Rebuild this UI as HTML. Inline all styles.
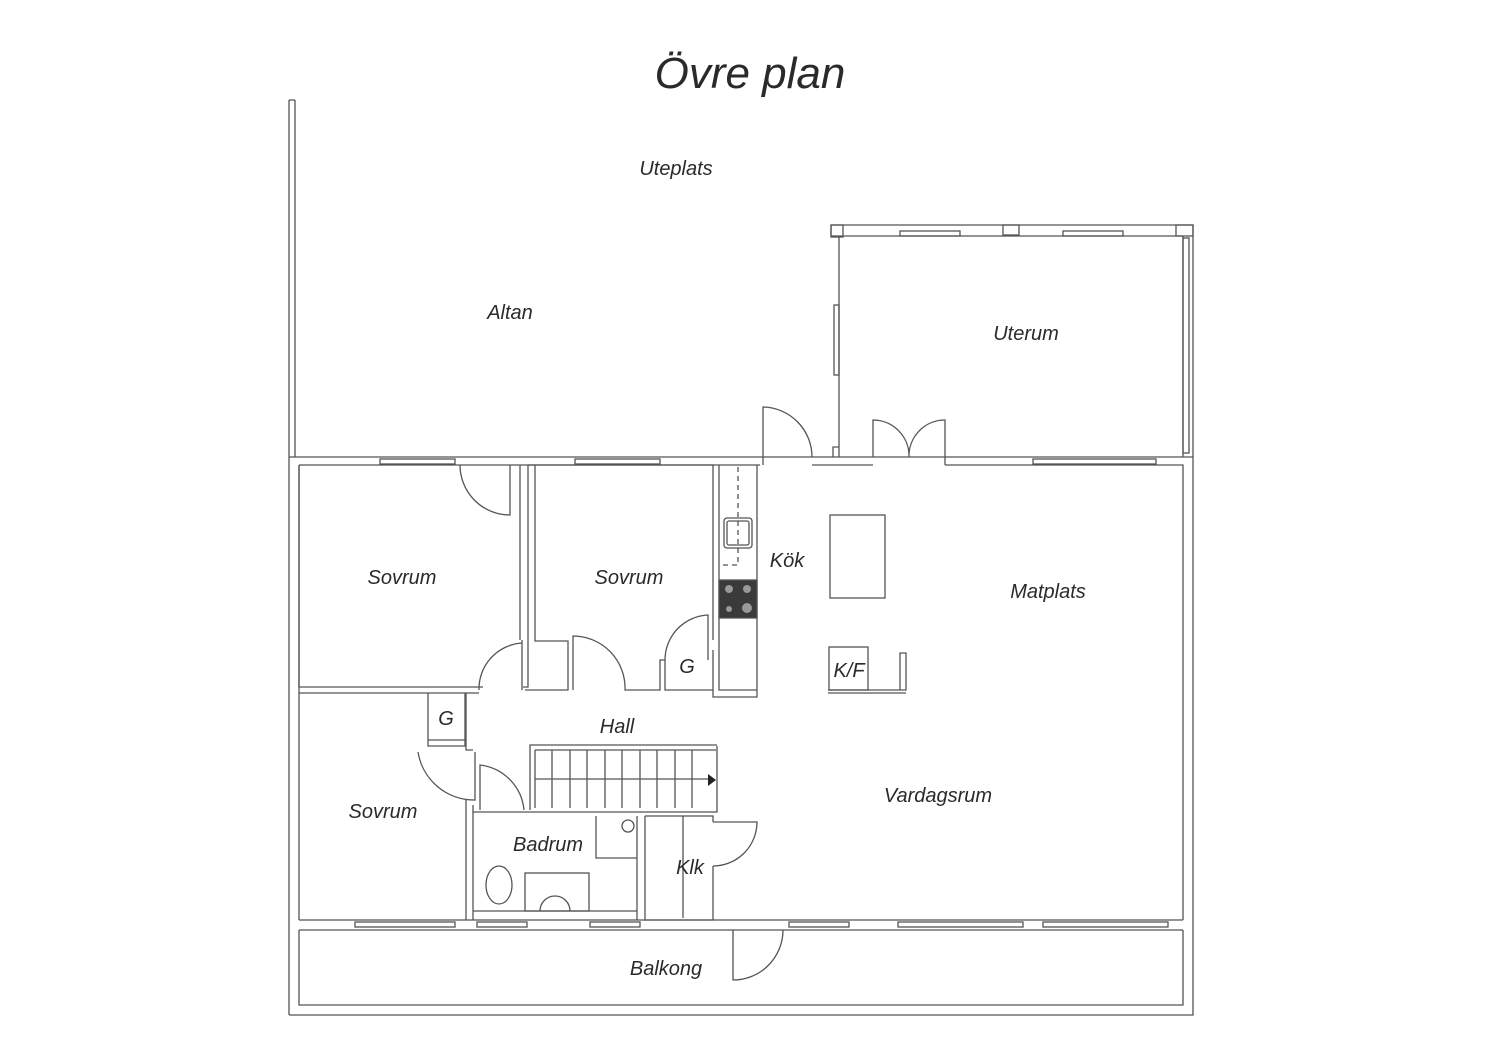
<!DOCTYPE html>
<html><head><meta charset="utf-8"><style>
html,body{margin:0;padding:0;background:#fff;}
svg{display:block}
text{font-family:"Liberation Sans",sans-serif;font-style:italic;fill:#2a2a2a}
</style></head><body>
<svg width="1500" height="1060" viewBox="0 0 1500 1060" xmlns="http://www.w3.org/2000/svg">
<g fill="none" stroke="#555" stroke-width="1.3">
<path d="M289 100 V1015 M295 100 V457 M289 100 H295"/>
<path d="M289 457 H1193 V1015 H289"/>
<path d="M299 465 H760 M812 465 H873 M945 465 H1183 V920 M1183 930 V1005 H299 V930 M299 920 V465"/>
<path d="M299 920 H1183 M299 930 H1183"/>
<rect x="380" y="459" width="75" height="5"/><rect x="575" y="459" width="85" height="5"/><rect x="1033" y="459" width="123" height="5"/>
<rect x="355" y="922" width="100" height="5"/><rect x="477" y="922" width="50" height="5"/><rect x="590" y="922" width="50" height="5"/>
<rect x="789" y="922" width="60" height="5"/><rect x="898" y="922" width="125" height="5"/><rect x="1043" y="922" width="125" height="5"/>
<path d="M299 465 V687 H479 M483 687 H299"/>
<path d="M299 693 H479"/>
<path d="M510 465 V515 A50 50 0 0 1 460 465"/>
<path d="M520 465 V640 M528 465 V687 H523"/>
<path d="M522 640 V690 M479 690 A46 46 0 0 1 522 643"/>
<path d="M535 465 V641 H568 V690 H525 M535 641"/>
<path d="M528 465 H713 V640"/>
<path d="M573 690 V636 A52 52 0 0 1 625 690 H660 V660 H665 V690 H713 V650"/>
<path d="M665 660 A45 45 0 0 1 708 615 V660"/>
<path d="M719 465 V690 H757 V465 M713 690 V697 H757 V690"/>
<path d="M738 467 V565 H719" stroke-dasharray="5,4"/>
<rect x="724" y="518" width="28" height="30" rx="3"/><rect x="727" y="521" width="22" height="24" rx="2"/>
<rect x="719" y="580" width="38" height="38" fill="#3a3a3a"/>
<rect x="830" y="515" width="55" height="83"/>
<rect x="829" y="647" width="39" height="43"/>
<path d="M828 690 H906 V653 H900 V690 M828 693 H906"/>
<path d="M839 457 V236 H1183 V457 M831 225 H1193 V457 M831 225 V236 H839"/>
<rect x="831" y="225" width="12" height="12"/><rect x="1003" y="225" width="16" height="10"/><rect x="1176" y="225" width="17" height="11"/>
<rect x="900" y="231" width="60" height="5"/><rect x="1063" y="231" width="60" height="5"/>
<rect x="1183" y="238" width="6" height="215"/><rect x="834" y="305" width="5" height="70"/>
<path d="M833 457 V447 H839"/>
<path d="M763 465 V407 A50 50 0 0 1 812 457"/>
<path d="M873 457 V420 A36 36 0 0 1 909 457 A36 36 0 0 1 945 420 V465"/>
<path d="M428 693 V746 H465 V693 M428 740 H465 M466 693 V750 H473"/>
<path d="M466 800 V920 M473 805 V920 M418 752 A57 57 0 0 0 475 800 V752"/>
<path d="M480 810 V765 A50 50 0 0 1 524 810"/>
<path d="M524 812 H717 V746 M530 810 V745 H717 M535 750 H716"/>
<path d="M535 750 V808 M535 779 H710"/>
<path d="M552 750 V808 M570 750 V808 M587 750 V808 M605 750 V808 M622 750 V808 M640 750 V808 M657 750 V808 M675 750 V808 M692 750 V808"/>
<path d="M473 812 H524 M596 816 V858 H637 M637 816 V920 M645 816 V920 H713 V866 M645 816 H713 V822 M683 816 V918 M473 911 H637"/>
<rect x="525" y="873" width="64" height="38"/>
<path d="M540 911 A15 15 0 0 1 570 911"/>
<ellipse cx="499" cy="885" rx="13" ry="19"/>
<circle cx="628" cy="826" r="6"/>
<path d="M713 822 H757 A44 44 0 0 1 713 866"/>
<path d="M733 930 V980 A50 50 0 0 0 783 930"/>
</g>
<path d="M708 774 L716 780 L708 786 Z" fill="#222"/>
<g fill="#999"><circle cx="729" cy="589" r="4"/><circle cx="747" cy="589" r="4"/><circle cx="729" cy="609" r="3"/><circle cx="747" cy="608" r="5"/></g>
<text x="750" y="88" font-size="44" text-anchor="middle" fill="#111">Övre plan</text>
<g font-size="20" text-anchor="middle">
<text x="676" y="175">Uteplats</text>
<text x="510" y="319">Altan</text>
<text x="1026" y="340">Uterum</text>
<text x="402" y="584">Sovrum</text>
<text x="629" y="584">Sovrum</text>
<text x="787" y="567">Kök</text>
<text x="1048" y="598">Matplats</text>
<text x="687" y="673">G</text>
<text x="849" y="677">K/F</text>
<text x="446" y="725">G</text>
<text x="617" y="733">Hall</text>
<text x="938" y="802">Vardagsrum</text>
<text x="383" y="818">Sovrum</text>
<text x="548" y="851">Badrum</text>
<text x="690" y="874">Klk</text>
<text x="666" y="975">Balkong</text>
</g>
</svg>
</body></html>
